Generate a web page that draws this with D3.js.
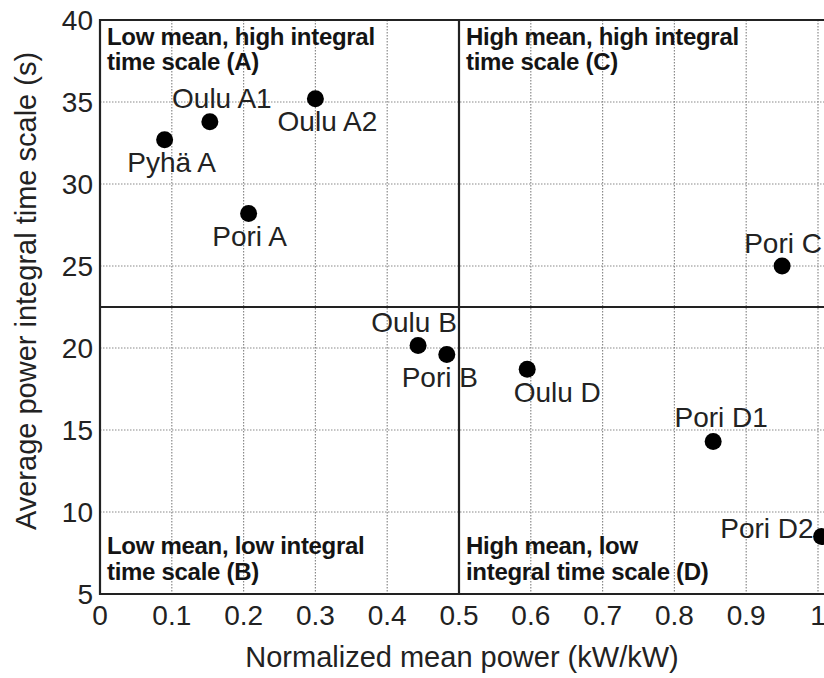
<!DOCTYPE html>
<html>
<head>
<meta charset="utf-8">
<script src="https://cdn.jsdelivr.net/npm/d3@7"></script>
<style>
  body { margin: 0; background: #fff; }
  svg { display: block; font-family: "Liberation Sans", Arial, sans-serif; }
</style>
</head>
<body>
<svg id="chart" width="824" height="678"></svg>
<script>
// data
const sites = ["Pyhä A", "Oulu A1", "Oulu A2", "Pori A", "Pori C", "Oulu B", "Pori B", "Oulu D", "Pori D1", "Pori D2"];
const meanPower = [0.09, 0.153, 0.30, 0.207, 0.95, 0.443, 0.483, 0.595, 0.854, 1.005];
const timeScale = [32.7, 33.8, 35.2, 28.2, 25.0, 20.15, 19.6, 18.7, 14.3, 8.5];
const xTicks = [0, 0.1, 0.2, 0.3, 0.4, 0.5, 0.6, 0.7, 0.8, 0.9, 1];
const yTicks = [5, 10, 15, 20, 25, 30, 35, 40];
const quadrants = [
  { lines: ["Low mean, high integral", "time scale (A)"], x: 0, y: 40 },
  { lines: ["High mean, high integral", "time scale (C)"], x: 0.5, y: 40 },
  { lines: ["Low mean, low integral", "time scale (B)"], x: 0, y: 5 },
  { lines: ["High mean, low", "integral time scale (D)"], x: 0.5, y: 5 }
];
const splitX = 0.5, splitY = 22.5;

// label placement next to each dot (layout only)
const labelPos = {
  "Pyhä A": [7, 32, "middle"], "Oulu A1": [12, -14, "middle"], "Oulu A2": [12, 32, "middle"],
  "Pori A": [1, 32, "middle"], "Pori C": [1, -13, "middle"], "Oulu B": [-4, -14, "middle"],
  "Pori B": [-7, 32, "middle"], "Oulu D": [30, 33, "middle"], "Pori D1": [8, -14, "middle"],
  "Pori D2": [-8, 1, "end"]
};

const svg = d3.select("#chart");
const x = d3.scaleLinear().domain([0, 1]).range([100, 818]);
const y = d3.scaleLinear().domain([5, 40]).range([594, 20]);
const ink = "#141414";

// dotted grid
const grid = svg.append("g").attr("stroke", "#8a8a8a").attr("stroke-width", 1.2).attr("stroke-dasharray", "1.5,1.5");
grid.selectAll("line.gx").data(xTicks.slice(1)).enter().append("line")
  .attr("x1", d => x(d)).attr("x2", d => x(d)).attr("y1", y(40)).attr("y2", y(5));
grid.selectAll("line.gy").data(yTicks.slice(1, -1)).enter().append("line")
  .attr("x1", x(0)).attr("x2", 824).attr("y1", d => y(d)).attr("y2", d => y(d));

// frame (right side is cut off in the figure)
const frame = svg.append("g").attr("stroke", "#222").attr("stroke-width", 2.2).attr("fill", "none");
frame.append("path").attr("d", `M824,${y(40)}H${x(0)}V${y(5)}H824`);
frame.append("line").attr("x1", x(splitX)).attr("x2", x(splitX)).attr("y1", y(40)).attr("y2", y(5));
frame.append("line").attr("x1", x(0)).attr("x2", 824).attr("y1", y(splitY)).attr("y2", y(splitY));

// tick labels
svg.append("g").selectAll("text").data(xTicks).enter().append("text")
  .attr("x", d => x(d)).attr("y", 625).attr("text-anchor", "middle")
  .attr("font-size", 28).attr("fill", "#222").text(d => d3.format("~g")(d));
svg.append("g").selectAll("text").data(yTicks).enter().append("text")
  .attr("x", 93).attr("y", d => y(d)).attr("dy", "0.36em").attr("text-anchor", "end")
  .attr("font-size", 28).attr("fill", "#222").text(d => d);

// axis titles
svg.append("text").attr("x", 462).attr("y", 667).attr("text-anchor", "middle")
  .attr("font-size", 29).attr("fill", "#222").text("Normalized mean power (kW/kW)");
svg.append("text").attr("transform", "translate(36,291) rotate(-90)").attr("text-anchor", "middle")
  .attr("font-size", 29).attr("fill", "#222").text("Average power integral time scale (s)");

// quadrant captions
quadrants.forEach(q => {
  const top = q.y === 40;
  const t = svg.append("text").attr("font-size", 24).attr("font-weight", "bold").attr("fill", ink)
    .attr("letter-spacing", -0.3);
  q.lines.forEach((s, i) => {
    t.append("tspan").attr("x", x(q.x) + 7)
      .attr("y", top ? y(q.y) + 25 + i * 25 : y(q.y) - 40 + i * 26).text(s);
  });
});

// points
const pts = sites.map((s, i) => ({ name: s, mx: meanPower[i], ts: timeScale[i] }));
svg.append("g").selectAll("circle").data(pts).enter().append("circle")
  .attr("cx", d => x(d.mx)).attr("cy", d => y(d.ts)).attr("r", 8.5).attr("fill", "#000");
svg.append("g").selectAll("text").data(pts).enter().append("text")
  .attr("x", d => x(d.mx) + labelPos[d.name][0]).attr("y", d => y(d.ts) + labelPos[d.name][1])
  .attr("text-anchor", d => labelPos[d.name][2])
  .attr("font-size", 28).attr("fill", "#222").text(d => d.name);
</script>
</body>
</html>
